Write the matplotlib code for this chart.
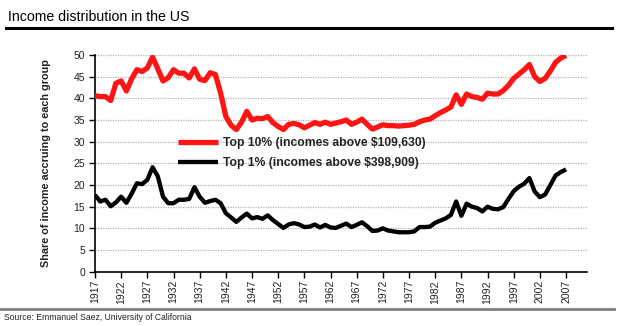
import matplotlib
matplotlib.use("Agg")
import matplotlib.pyplot as plt
from matplotlib.lines import Line2D
import numpy as np

plt.rcParams['font.family'] = ['Liberation Sans', 'DejaVu Sans']

years = np.arange(1917, 2008)

# share of income, top decile (incl. capital gains)
top10 = [40.6, 40.4, 40.4, 39.5, 43.5, 44.0, 41.7, 44.5, 46.6, 46.2,
         47.0, 49.5, 46.8, 44.0, 44.8, 46.6, 45.8, 45.8, 44.7, 46.8,
         44.4, 44.1, 45.9, 45.5, 41.2, 35.8, 33.8, 32.8, 34.5, 37.0,
         35.0, 35.4, 35.3, 35.8, 34.4, 33.5, 32.8, 34.0, 34.2, 33.9,
         33.2, 33.8, 34.4, 34.0, 34.5, 34.0, 34.3, 34.6, 35.0, 34.0,
         34.5, 35.2, 34.0, 32.9, 33.4, 33.9, 33.7, 33.7, 33.6, 33.7,
         33.8, 34.0, 34.6, 35.0, 35.2, 36.0, 36.7, 37.3, 38.0, 40.8,
         38.6, 41.0, 40.4, 40.2, 39.8, 41.2, 41.0, 41.0, 41.8, 43.0,
         44.6, 45.6, 46.6, 47.8, 45.0, 43.9, 44.6, 46.3, 48.3, 49.3,
         49.9]

# top percentile
top1 = [17.7, 16.2, 16.6, 15.1, 16.0, 17.3, 15.9, 18.0, 20.4, 20.2,
        21.2, 24.1, 22.0, 17.3, 15.8, 15.8, 16.6, 16.6, 16.8, 19.5,
        17.3, 15.9, 16.3, 16.6, 15.8, 13.5, 12.5, 11.5, 12.5, 13.4,
        12.3, 12.6, 12.2, 13.0, 11.9, 11.0, 10.1, 10.9, 11.2, 10.9,
        10.3, 10.4, 10.9, 10.2, 10.8, 10.2, 10.1, 10.6, 11.1, 10.3,
        10.8, 11.4, 10.5, 9.4, 9.5, 10.0, 9.5, 9.3, 9.1, 9.1,
        9.1, 9.3, 10.3, 10.3, 10.4, 11.3, 11.8, 12.3, 13.1, 16.2,
        12.9, 15.7, 15.0, 14.7, 13.9, 15.0, 14.5, 14.4, 14.9, 16.8,
        18.6, 19.6, 20.3, 21.6, 18.5, 17.2, 17.8, 20.0, 22.2, 23.0,
        23.6]

labels = ["Top 10% (incomes above $109,630)",
          "Top 1% (incomes above $398,909)"]
xticks = list(range(1917, 2008, 5))
yticks = list(range(0, 51, 5))

W, H = 624, 326
fig = plt.figure(figsize=(W / 100, H / 100), dpi=100)
ax = fig.add_axes([95 / W, 1 - 271.7 / H, (587 - 95) / W, (271.7 - 55) / H])

ax.plot(years, top10, color='#ff1414', lw=3.8, solid_joinstyle='round',
        solid_capstyle='butt', label=labels[0], zorder=3)
ax.plot(years, top1, color='black', lw=3.1, solid_joinstyle='round',
        solid_capstyle='butt', label=labels[1], zorder=3)

ax.set_xlim(1917, 2011)
ax.set_ylim(0, 50)
ax.set_yticks(yticks)
ax.set_xticks(xticks)
ax.set_xticklabels([str(y) for y in xticks], rotation=90)
ax.tick_params(axis='both', direction='out', length=4, width=1,
               labelsize=7.5, colors='black', labelcolor='#222222')
ax.tick_params(axis='x', pad=2)
ax.tick_params(axis='y', pad=3)

for s in ['top', 'right']:
    ax.spines[s].set_visible(False)
for s in ['left', 'bottom']:
    ax.spines[s].set_linewidth(1.2)

for v in yticks[1:]:
    ax.axhline(v, color='#b0b0b0', lw=0.9, ls=(0, (1, 1)), zorder=1)

ax.set_ylabel("Share of income accruing to each group", fontsize=7.8,
              fontweight='bold', color='#222222', labelpad=16)

leg = ax.legend(loc='upper left', bbox_to_anchor=(178 / W, 1 - 137 / H),
                bbox_transform=fig.transFigure, frameon=False,
                borderpad=0, borderaxespad=0, handlelength=3.3,
                handletextpad=0.4, labelspacing=0.7,
                prop={'size': 8.7, 'weight': 'bold'})
for t in leg.get_texts():
    t.set_color('#222222')

# title, rules and source
fig.text(8 / W, 1 - 17 / H, "Income distribution in the US", fontsize=10.2,
         va='center', ha='left', color='black')
fig.add_artist(Line2D([6 / W, 612 / W], [1 - 28 / H, 1 - 28 / H],
                      color='black', lw=2.2))
fig.add_artist(Line2D([0 / W, 614 / W], [1 - 308.5 / H, 1 - 308.5 / H],
                      color='#808080', lw=2.0))
fig.text(4 / W, 1 - 317 / H, "Source: Emmanuel Saez, University of California",
         fontsize=6.2, va='center', ha='left', color='#222222')

fig.savefig("out.png", dpi=100)
